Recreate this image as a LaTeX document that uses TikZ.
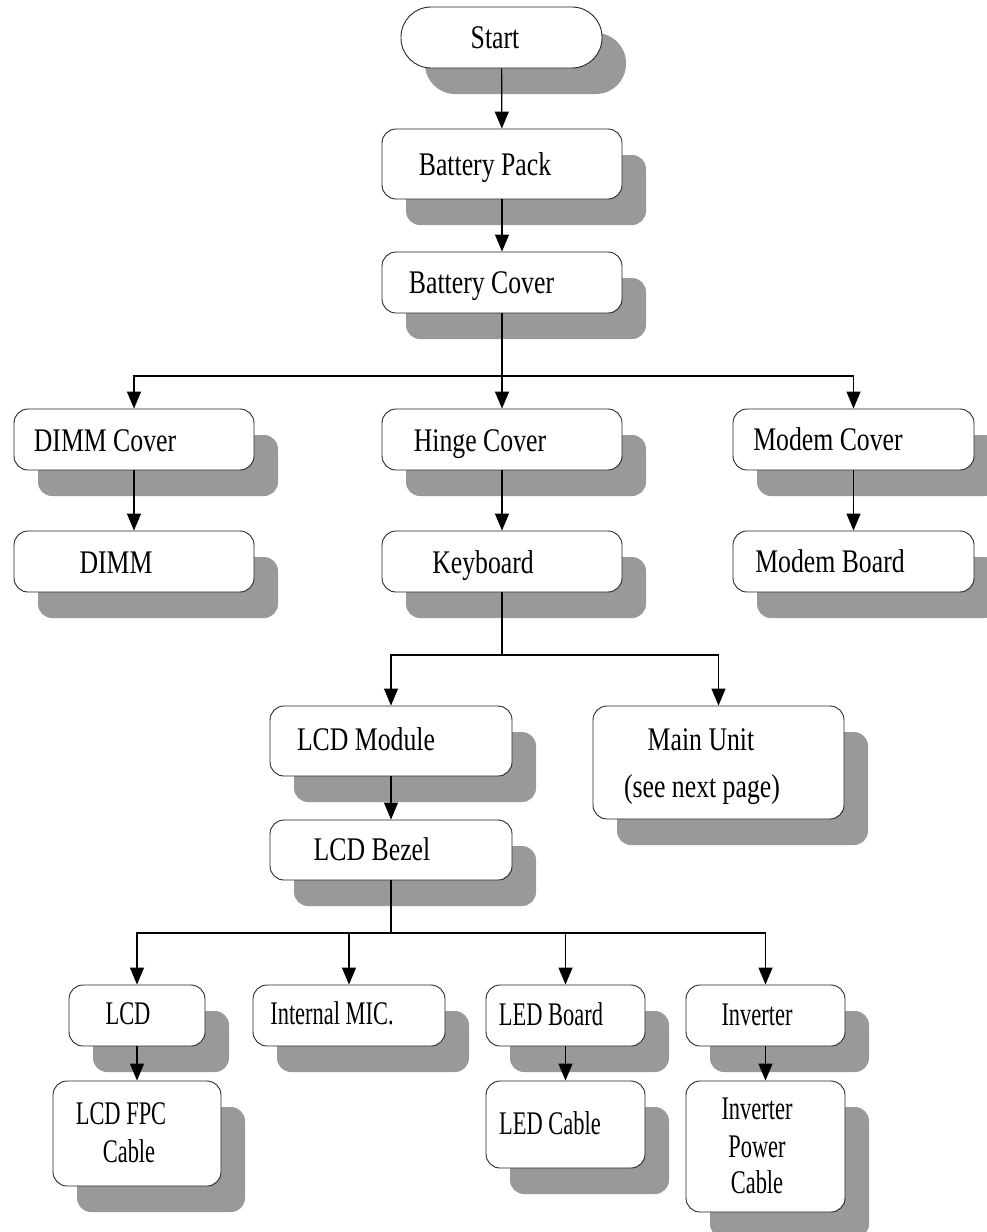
\documentclass[tikz,border=0pt]{standalone}
\usepackage{fontspec}
\setmainfont{Liberation Serif}[FakeStretch=0.78]
\newfontfamily\narrowserif{Liberation Serif}[FakeStretch=0.68]
\usetikzlibrary{arrows.meta,shadows}
\definecolor{shadowgray}{RGB}{153,153,153}

\begin{document}
\begin{tikzpicture}[x=1pt,y=-1pt,
  stepbox/.style={draw=black!85, fill=white, line width=0.9pt,
    rounded corners=14pt, inner sep=0pt,
    drop shadow={shadow xshift=24pt, shadow yshift=-26pt,
      fill=shadowgray, opacity=1}},
  startbox/.style={stepbox, rounded corners=30pt},
  lbl/.style={font=\fontsize{33}{37}\selectfont, inner sep=0pt,
    text height=22pt, text depth=0pt},
  lbls/.style={lbl, font=\narrowserif\fontsize{33}{37}\selectfont},
  conn/.style={draw, line width=1.2pt},
  arr/.style={conn, -{Triangle[width=14pt,length=17pt]}}]

\useasboundingbox (0,0) rectangle (987,1232);

% ---- boxes ----
\node[startbox, minimum width=201pt, minimum height=61pt] (start) at (501.5,37.5) {};
\node[stepbox, minimum width=240pt, minimum height=70pt] (bp) at (502,164) {};
\node[stepbox, minimum width=240pt, minimum height=61pt] (bc) at (502,282.5) {};

\node[stepbox, minimum width=240pt, minimum height=61pt] (dimmc) at (134,439.5) {};
\node[stepbox, minimum width=240pt, minimum height=61pt] (hinge) at (502,439.5) {};
\node[stepbox, minimum width=241pt, minimum height=61pt] (modemc) at (853.5,439.5) {};

\node[stepbox, minimum width=240pt, minimum height=61pt] (dimm) at (134,561.5) {};
\node[stepbox, minimum width=240pt, minimum height=61pt] (kb) at (502,561.5) {};
\node[stepbox, minimum width=241pt, minimum height=61pt] (modemb) at (853.5,561.5) {};

\node[stepbox, minimum width=242pt, minimum height=70pt] (lcdm) at (391,741) {};
\node[stepbox, minimum width=251pt, minimum height=113pt] (main) at (718.5,762.5) {};
\node[stepbox, minimum width=242pt, minimum height=60pt] (bezel) at (391,850) {};

\node[stepbox, minimum width=136pt, minimum height=61pt] (lcd) at (137,1015.5) {};
\node[stepbox, minimum width=192pt, minimum height=61pt] (mic) at (349,1015.5) {};
\node[stepbox, minimum width=159pt, minimum height=61pt] (ledb) at (565.5,1015.5) {};
\node[stepbox, minimum width=159pt, minimum height=61pt] (inv) at (765.5,1015.5) {};

\node[stepbox, minimum width=168pt, minimum height=105pt] (fpc) at (137,1133.5) {};
\node[stepbox, minimum width=159pt, minimum height=87pt] (ledc) at (565.5,1124.5) {};
\node[stepbox, minimum width=159pt, minimum height=131pt] (invp) at (765.5,1146.5) {};

% ---- labels ----
\node[lbl] (start-t) at (495,37.5) {Start};
\node[lbl] (bp-t) at (485,164) {Battery Pack};
\node[lbl] (bc-t) at (481.5,282) {Battery Cover};
\node[lbl] (dimmc-t) at (105,440) {DIMM Cover};
\node[lbl] (hinge-t) at (480,440) {Hinge Cover};
\node[lbl] (modemc-t) at (828,439) {Modem Cover};
\node[lbl] (dimm-t) at (116,562) {DIMM};
\node[lbl] (kb-t) at (483,562) {Keyboard};
\node[lbl] (modemb-t) at (830,561) {Modem Board};
\node[lbl] (lcdm-t) at (366,739.5) {LCD Module};
\node[lbl] (main-t1) at (701,739.5) {Main Unit};
\node[lbl] (main-t2) at (702,786) {(see next page)};
\node[lbl] (bezel-t) at (372,849.5) {LCD Bezel};

\node[lbls] (lcd-t) at (128,1013.5) {LCD};
\node[lbls] (mic-t) at (332,1013.5) {Internal MIC.};
\node[lbls] (ledb-t) at (551,1014) {LED Board};
\node[lbls] (inv-t) at (757,1014) {Inverter};
\node[lbls] (fpc-t1) at (121,1113.5) {LCD FPC};
\node[lbls] (fpc-t2) at (129,1151.5) {Cable};
\node[lbls] (ledc-t) at (550,1123) {LED Cable};
\node[lbls] (invp-t1) at (757,1108.5) {Inverter};
\node[lbls] (invp-t2) at (757,1146.5) {Power};
\node[lbls] (invp-t3) at (757,1182.5) {Cable};

% ---- connectors ----
\draw[arr] (start) -- (bp);
\draw[arr] (bp) -- (bc);

\coordinate (f1) at (502,376);
\draw[conn] (bc.south) -- (f1);
\draw[arr] (f1) -| (dimmc.north);
\draw[arr] (f1) -- (hinge.north);
\draw[arr] (f1) -| (modemc.north);

\draw[arr] (dimmc) -- (dimm);
\draw[arr] (hinge) -- (kb);
\draw[arr] (modemc) -- (modemb);

\coordinate (f2) at (502,655);
\draw[conn] (kb.south) -- (f2);
\draw[arr] (f2) -| (lcdm.north);
\draw[arr] (f2) -| (main.north);

\draw[arr] (lcdm) -- (bezel);

\coordinate (f3) at (391,933);
\draw[conn] (bezel.south) -- (f3);
\draw[arr] (f3) -| (lcd.north);
\draw[arr] (f3) -| (mic.north);
\draw[arr] (f3) -| (ledb.north);
\draw[arr] (f3) -| (inv.north);

\draw[arr] (lcd) -- (fpc);
\draw[arr] (ledb) -- (ledc);
\draw[arr] (inv) -- (invp);
\end{tikzpicture}
\end{document}
